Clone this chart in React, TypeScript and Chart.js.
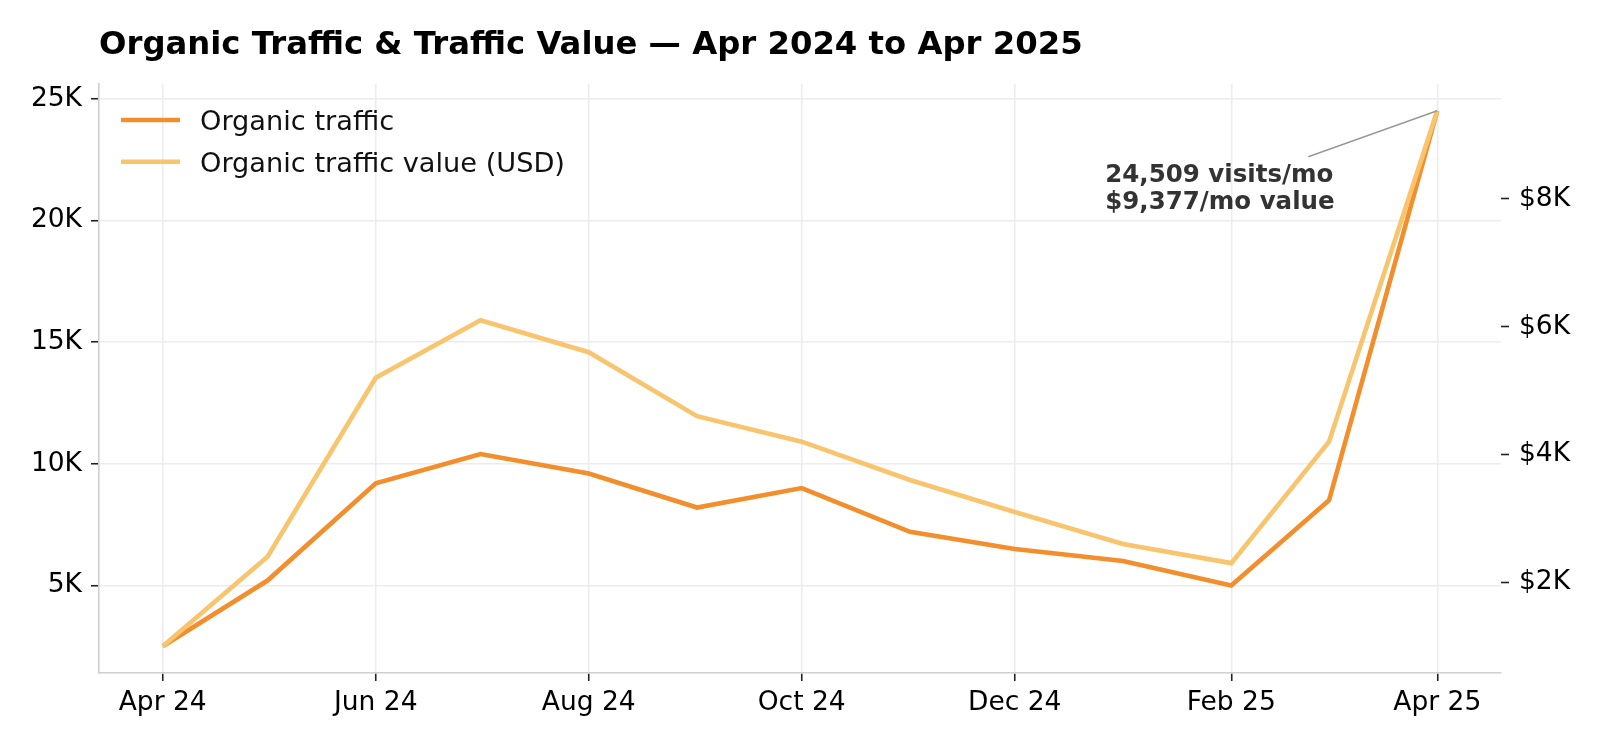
import React, { useEffect, useRef } from "react";
import { Chart, registerables } from "chart.js";

Chart.register(...registerables);

const months = [
  "2024-04-01", "2024-05-01", "2024-06-01", "2024-07-01", "2024-08-01", "2024-09-01",
  "2024-10-01", "2024-11-01", "2024-12-01", "2025-01-01", "2025-02-01", "2025-03-01", "2025-04-01",
];
const organicTraffic = [2500, 5200, 9200, 10400, 9600, 8200, 9000, 7200, 6500, 6000, 5000, 8500, 24509];
const trafficValue = [1000, 2400, 5200, 6100, 5600, 4600, 4200, 3600, 3100, 2600, 2300, 4200, 9377];

const xTickDates = ["2024-04-01", "2024-06-01", "2024-08-01", "2024-10-01", "2024-12-01", "2025-02-01", "2025-04-01"];
const xTickLabels = ["Apr 24", "Jun 24", "Aug 24", "Oct 24", "Dec 24", "Feb 25", "Apr 25"];
const leftTicks = [5000, 10000, 15000, 20000, 25000];
const leftTickLabels = ["5K", "10K", "15K", "20K", "25K"];
const rightTicks = [2000, 4000, 6000, 8000];
const rightTickLabels = ["$2K", "$4K", "$6K", "$8K"];

const TITLE = "Organic Traffic & Traffic Value — Apr 2024 to Apr 2025";
const LEGEND = ["Organic traffic", "Organic traffic value (USD)"];
const ANNOT = ["24,509 visits/mo", "$9,377/mo value"];

const C_TRAFFIC = "#F28E2B";
const C_VALUE = "#F9C46E";

const base = Date.UTC(2024, 3, 1);
const toDay = (s: string) => {
  const [y, m, d] = s.split("-").map(Number);
  return (Date.UTC(y, m - 1, d) - base) / 86400000;
};

const withMargin = (arr: number[]) => {
  const mn = Math.min(...arr), mx = Math.max(...arr);
  const m = (mx - mn) * 0.05;
  return [mn - m, mx + m];
};

export default function App() {
  const ref = useRef<HTMLCanvasElement | null>(null);

  useEffect(() => {
    document.body.style.margin = "0";
    const canvas = ref.current!;
    const days = months.map(toDay);
    const [xMin, xMax] = withMargin(days);
    const [lMin, lMax] = withMargin(organicTraffic);
    const [rMin, rMax] = withMargin(trafficValue);
    const xTicks = xTickDates.map(toDay);

    const overlay = {
      id: "overlay",
      afterDraw(chart: any) {
        const ctx = chart.ctx;
        ctx.save();
        // title
        ctx.fillStyle = "#000";
        ctx.font = "bold 32.3px 'DejaVu Sans'";
        ctx.textAlign = "left";
        ctx.textBaseline = "alphabetic";
        ctx.fillText(TITLE, chart.chartArea.left, 54);
        // legend
        const lx = chart.chartArea.left + 22;
        const ly = [120, 161.7];
        const cols = [C_TRAFFIC, C_VALUE];
        ctx.font = "27.2px 'DejaVu Sans'";
        for (let i = 0; i < 2; i++) {
          ctx.strokeStyle = cols[i];
          ctx.lineWidth = 4.6;
          ctx.beginPath();
          ctx.moveTo(lx, ly[i]);
          ctx.lineTo(lx + 59, ly[i]);
          ctx.stroke();
          ctx.fillStyle = "#111";
          ctx.fillText(LEGEND[i], lx + 79, ly[i] + 9.8);
        }
        // annotation
        const last = organicTraffic.length - 1;
        const px = chart.scales.x.getPixelForValue(days[last]);
        const py = chart.scales.y.getPixelForValue(organicTraffic[last]);
        ctx.strokeStyle = "#999";
        ctx.lineWidth = 1.6;
        ctx.beginPath();
        ctx.moveTo(px - 129, py + 46);
        ctx.lineTo(px, py);
        ctx.stroke();
        ctx.fillStyle = "#333";
        ctx.font = "bold 24.5px 'DejaVu Sans'";
        ctx.fillText(ANNOT[0], px - 332, py + 71);
        ctx.fillText(ANNOT[1], px - 332, py + 98);
        ctx.restore();
      },
    };

    const tickFont = { family: "'DejaVu Sans'", size: 26.5 };

    const chart = new Chart(canvas, {
      type: "line",
      data: {
        datasets: [
          {
            label: LEGEND[0],
            data: days.map((d, i) => ({ x: d, y: organicTraffic[i] })),
            borderColor: C_TRAFFIC,
            borderWidth: 4.6,
            pointRadius: 0,
            tension: 0,
            yAxisID: "y",
            order: 1,
          },
          {
            label: LEGEND[1],
            data: days.map((d, i) => ({ x: d, y: trafficValue[i] })),
            borderColor: C_VALUE,
            borderWidth: 4.6,
            pointRadius: 0,
            tension: 0,
            yAxisID: "y1",
            order: 0,
          },
        ],
      },
      options: {
        responsive: false,
        animation: false,
        layout: { padding: { top: 84, left: 0, right: 0, bottom: 0 } },
        plugins: { legend: { display: false }, title: { display: false }, tooltip: { enabled: false } },
        scales: {
          x: {
            type: "linear",
            min: xMin,
            max: xMax,
            afterBuildTicks: (s: any) => { s.ticks = xTicks.map((v) => ({ value: v })); },
            afterFit: (s: any) => { s.height = 74; },
            ticks: {
              autoSkip: false,
              maxRotation: 0,
              padding: 6,
              color: "#000",
              font: tickFont,
              callback: (v: any) => {
                const i = xTicks.indexOf(Number(v));
                return i >= 0 ? xTickLabels[i] : "";
              },
            },
            grid: { color: "#ececec", lineWidth: 1.5, tickColor: "#222", tickLength: 8, tickWidth: 1.6 },
            border: { display: true, color: "#cfcfcf", width: 1.6 },
          },
          y: {
            type: "linear",
            position: "left",
            min: lMin,
            max: lMax,
            afterBuildTicks: (s: any) => { s.ticks = leftTicks.map((v) => ({ value: v })); },
            afterFit: (s: any) => { s.width = 99; },
            ticks: {
              padding: 9,
              color: "#000",
              font: tickFont,
              callback: (v: any) => {
                const i = leftTicks.indexOf(Number(v));
                return i >= 0 ? leftTickLabels[i] : "";
              },
            },
            grid: { color: "#ececec", lineWidth: 1.5, tickColor: "#222", tickLength: 8, tickWidth: 1.6 },
            border: { display: true, color: "#cfcfcf", width: 1.6 },
          },
          y1: {
            type: "linear",
            position: "right",
            min: rMin,
            max: rMax,
            afterBuildTicks: (s: any) => { s.ticks = rightTicks.map((v) => ({ value: v })); },
            afterFit: (s: any) => { s.width = 99; },
            ticks: {
              padding: 10,
              color: "#000",
              font: tickFont,
              callback: (v: any) => {
                const i = rightTicks.indexOf(Number(v));
                return i >= 0 ? rightTickLabels[i] : "";
              },
            },
            grid: { drawOnChartArea: false, tickColor: "#222", tickLength: 8, tickWidth: 1.6 },
            border: { display: false },
          },
        },
      },
      plugins: [overlay],
    } as any);

    return () => chart.destroy();
  }, []);

  return (
    <div style={{ width: 1600, height: 747, background: "#fff" }}>
      <canvas ref={ref} width={1600} height={747} style={{ display: "block" }} />
    </div>
  );
}
